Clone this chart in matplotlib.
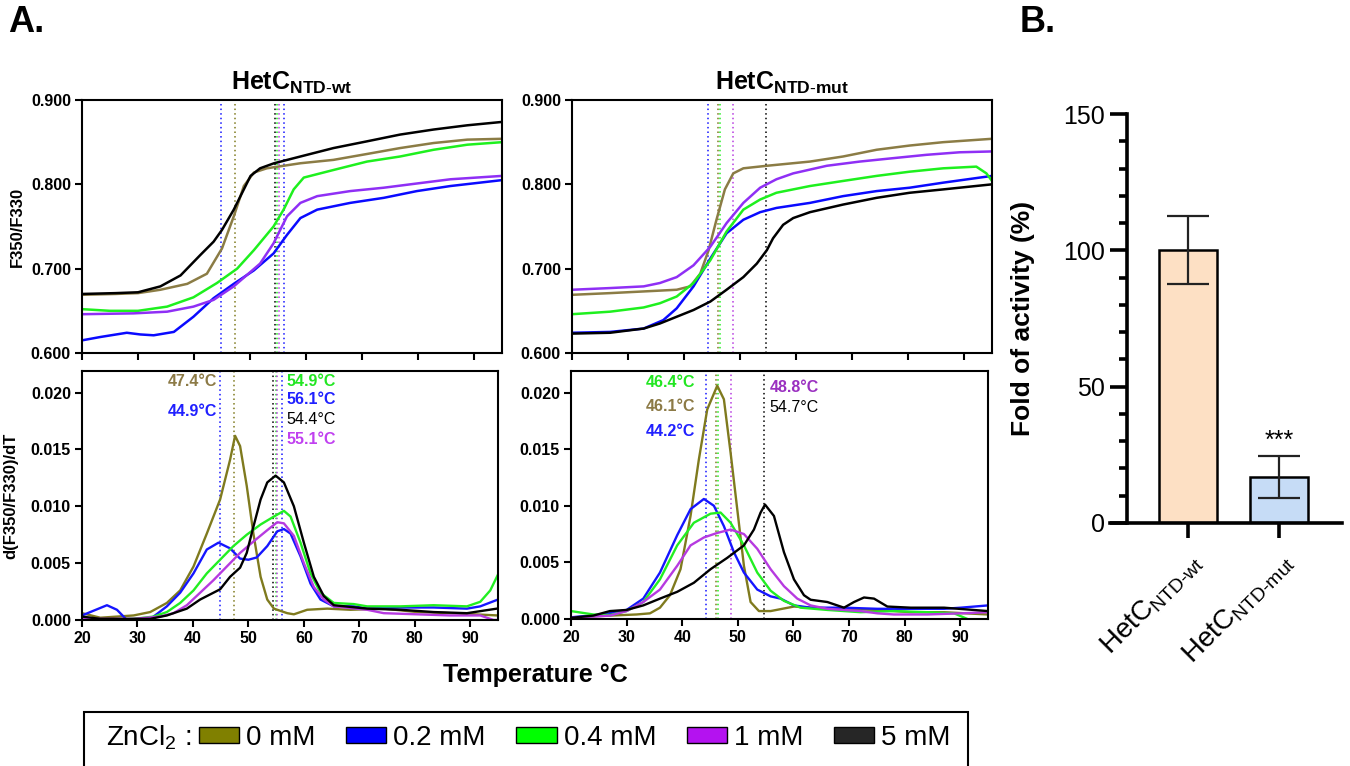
import matplotlib
matplotlib.use("Agg")
import matplotlib.pyplot as plt
import matplotlib.patches as mpatches
from matplotlib.ticker import FormatStrFormatter, MultipleLocator

plt.rcParams['font.family'] = ['Liberation Sans', 'DejaVu Sans']
plt.rcParams['mathtext.fontset'] = 'custom'
plt.rcParams['mathtext.rm'] = 'Liberation Sans'
plt.rcParams['mathtext.bf'] = 'Liberation Sans:bold'
plt.rcParams['mathtext.it'] = 'Liberation Sans:italic'

# ---- data ----
conc_labels = ['0 mM', '0.2 mM', '0.4 mM', '1 mM', '5 mM']
legend_colors = ['#808000', '#0000ff', '#00ff00', '#b412f0', '#262626']
ratio_colors = ['#8b7c45', '#0a0aff', '#1ef01e', '#8f2ff5', '#000000']
deriv_colors = ['#7f7a1e', '#1515ff', '#22ee22', '#b63ae0', '#000000']

# HetC NTD-wt, F350/F330
wt_ratio_t_0 = [20, 26, 30, 34.0, 38.8, 42.3, 45.0, 47.1, 48.9, 50.7, 53.0, 59.0, 64.9, 70.9, 76.8, 82.8, 88.8, 95]
wt_ratio_0 = [0.669, 0.670, 0.671, 0.675, 0.682, 0.694, 0.724, 0.762, 0.798, 0.814, 0.819, 0.825, 0.829, 0.836, 0.843, 0.849, 0.853, 0.854]
wt_ratio_t_02 = [20, 23.3, 28.0, 30.4, 32.8, 36.4, 39.9, 43.5, 47.1, 50.7, 54.2, 56.6, 59.0, 62.0, 67.9, 73.9, 79.8, 85.8, 95]
wt_ratio_02 = [0.615, 0.619, 0.624, 0.622, 0.621, 0.625, 0.643, 0.665, 0.682, 0.698, 0.718, 0.740, 0.760, 0.770, 0.778, 0.784, 0.792, 0.798, 0.805]
wt_ratio_t_04 = [20, 25, 30.0, 35.2, 39.9, 44.1, 47.7, 50.7, 54.2, 56.0, 57.8, 59.6, 64.9, 70.9, 76.8, 82.8, 88.8, 95]
wt_ratio_04 = [0.652, 0.650, 0.650, 0.655, 0.666, 0.683, 0.700, 0.722, 0.750, 0.770, 0.794, 0.808, 0.817, 0.827, 0.833, 0.841, 0.847, 0.850]
wt_ratio_t_1 = [20, 29.2, 35.2, 39.9, 43.5, 47.1, 51.8, 54.2, 56.6, 59.0, 62.0, 67.9, 73.9, 79.8, 85.8, 95]
wt_ratio_1 = [0.646, 0.647, 0.649, 0.655, 0.663, 0.679, 0.706, 0.730, 0.762, 0.778, 0.786, 0.792, 0.796, 0.801, 0.806, 0.810]
wt_ratio_t_5 = [20, 26, 30, 34.0, 37.6, 41.1, 43.5, 45.0, 47.1, 48.9, 50.1, 51.8, 54.3, 59.0, 64.9, 70.9, 76.8, 82.8, 88.8, 95]
wt_ratio_5 = [0.670, 0.671, 0.672, 0.679, 0.692, 0.716, 0.732, 0.746, 0.770, 0.794, 0.810, 0.819, 0.825, 0.833, 0.843, 0.851, 0.859, 0.865, 0.870, 0.874]

# HetC NTD-wt, d(F350/F330)/dT
wt_deriv_t_0 = [20, 23.3, 29.3, 32.3, 35.3, 37.7, 40.1, 42.5, 44.9, 46.7, 47.6, 48.5, 49.7, 50.9, 52.2, 53.4, 54.6, 57.0, 58.2, 60.6, 64.2, 68.4, 74.4, 80.4, 86.4, 95]
wt_deriv_0 = [0.0006, 0.0002, 0.0004, 0.0007, 0.0015, 0.0026, 0.0047, 0.0076, 0.0106, 0.0141, 0.0162, 0.0153, 0.0118, 0.0076, 0.0038, 0.0018, 0.0010, 0.0006, 0.0005, 0.0009, 0.0010, 0.0009, 0.0010, 0.0007, 0.0006, 0.0004]
wt_deriv_t_02 = [20, 24.5, 26.3, 28.1, 31.7, 32.9, 35.3, 37.7, 40.1, 42.5, 44.6, 46.7, 48.5, 50.0, 51.5, 53.4, 55.2, 56.4, 57.6, 59.4, 61.2, 63.0, 65.4, 69.0, 71.4, 77.4, 83.4, 89.4, 91.8, 95]
wt_deriv_02 = [0.0004, 0.0013, 0.0009, 0.0, 0.0, 0.0003, 0.0012, 0.0024, 0.0041, 0.0062, 0.0068, 0.0063, 0.0054, 0.0053, 0.0055, 0.0065, 0.0078, 0.0080, 0.0076, 0.0056, 0.0032, 0.0018, 0.0012, 0.0012, 0.0010, 0.0011, 0.0011, 0.0010, 0.0012, 0.0018]
wt_deriv_t_04 = [20, 23.9, 29.3, 32.9, 35.3, 37.7, 40.1, 42.5, 44.9, 47.3, 49.7, 52.2, 54.6, 56.4, 57.6, 59.4, 61.2, 63.0, 65.4, 69.0, 71.4, 77.4, 83.4, 89.4, 91.8, 93.6, 95]
wt_deriv_04 = [0.0, 0.0, 0.0001, 0.0003, 0.0007, 0.0015, 0.0026, 0.0041, 0.0053, 0.0065, 0.0075, 0.0084, 0.0091, 0.0096, 0.0091, 0.0068, 0.0041, 0.0024, 0.0015, 0.0014, 0.0012, 0.0012, 0.0013, 0.0012, 0.0016, 0.0026, 0.0040]
wt_deriv_t_1 = [20, 29.3, 34.1, 36.5, 38.9, 41.3, 43.7, 46.1, 48.5, 50.9, 53.4, 55.2, 56.4, 58.2, 60.0, 61.8, 63.6, 65.4, 71.4, 74.4, 80.4, 86.4, 91.8, 94.2, 95]
wt_deriv_1 = [0.0001, 0.0001, 0.0003, 0.0006, 0.0013, 0.0024, 0.0035, 0.0047, 0.0059, 0.0069, 0.0079, 0.0086, 0.0085, 0.0074, 0.0050, 0.0029, 0.0018, 0.0012, 0.0009, 0.0006, 0.0005, 0.0004, 0.0004, 0.0, 0.0]
wt_deriv_t_5 = [20, 23.3, 32.3, 35.3, 38.9, 41.3, 43.7, 44.9, 46.7, 48.5, 49.7, 50.9, 52.2, 53.4, 54.9, 56.4, 58.2, 60.0, 61.8, 63.6, 65.4, 71.4, 77.4, 83.4, 89.4, 94.8]
wt_deriv_5 = [0.0003, 0.0001, 0.0001, 0.0004, 0.0010, 0.0018, 0.0024, 0.0027, 0.0038, 0.0046, 0.0059, 0.0082, 0.0106, 0.0121, 0.0127, 0.0121, 0.0100, 0.0068, 0.0038, 0.0021, 0.0013, 0.0010, 0.0009, 0.0007, 0.0006, 0.0010]

# HetC NTD-mut, F350/F330
mut_ratio_t_0 = [20, 26.8, 32.8, 38.7, 41.1, 42.9, 44.4, 45.8, 47.3, 48.8, 50.6, 54.8, 62.5, 68.4, 74.4, 80.3, 86.3, 95]
mut_ratio_0 = [0.669, 0.671, 0.673, 0.675, 0.679, 0.694, 0.722, 0.758, 0.794, 0.813, 0.819, 0.822, 0.827, 0.833, 0.841, 0.846, 0.850, 0.854]
mut_ratio_t_02 = [20, 26.8, 32.8, 36.3, 38.7, 41.7, 44.7, 47.6, 50.6, 53.6, 56.5, 62.5, 68.4, 74.4, 80.3, 86.3, 95]
mut_ratio_02 = [0.624, 0.625, 0.629, 0.639, 0.653, 0.679, 0.712, 0.742, 0.758, 0.767, 0.772, 0.778, 0.786, 0.792, 0.796, 0.802, 0.810]
mut_ratio_t_04 = [20, 26.8, 32.8, 35.7, 38.7, 41.7, 44.7, 47.6, 50.6, 53.6, 56.5, 62.5, 68.4, 74.4, 80.3, 86.3, 92.2, 94.0, 95]
mut_ratio_04 = [0.646, 0.649, 0.654, 0.659, 0.667, 0.683, 0.710, 0.744, 0.770, 0.782, 0.790, 0.798, 0.804, 0.810, 0.815, 0.819, 0.821, 0.813, 0.804]
mut_ratio_t_1 = [20, 26.8, 32.8, 35.7, 38.7, 41.7, 44.7, 47.6, 50.6, 53.6, 56.5, 59.5, 65.5, 71.4, 77.3, 83.3, 89.2, 95]
mut_ratio_1 = [0.675, 0.677, 0.679, 0.683, 0.690, 0.704, 0.726, 0.754, 0.778, 0.796, 0.806, 0.813, 0.822, 0.827, 0.831, 0.835, 0.838, 0.839]
mut_ratio_t_5 = [20, 26.8, 32.8, 35.7, 38.7, 41.7, 44.7, 47.6, 50.6, 53.0, 54.8, 55.9, 57.7, 59.5, 62.5, 68.4, 74.4, 80.3, 86.3, 95]
mut_ratio_5 = [0.623, 0.624, 0.629, 0.635, 0.643, 0.651, 0.661, 0.675, 0.690, 0.706, 0.722, 0.736, 0.752, 0.760, 0.767, 0.776, 0.784, 0.790, 0.794, 0.800]

# HetC NTD-mut, d(F350/F330)/dT
mut_deriv_t_0 = [20, 27.0, 31.8, 34.2, 36.0, 37.8, 39.7, 41.5, 43.0, 44.5, 46.3, 47.5, 48.7, 49.9, 51.1, 52.3, 53.8, 55.9, 60.1, 63.1, 69.1, 75.1, 81.1, 87.1, 95]
mut_deriv_0 = [0.00015, 0.0003, 0.0004, 0.0005, 0.0010, 0.0021, 0.0044, 0.0091, 0.0141, 0.0185, 0.0206, 0.0194, 0.0147, 0.0097, 0.0047, 0.0015, 0.0007, 0.0007, 0.0011, 0.0010, 0.0009, 0.0008, 0.0006, 0.0006, 0.0004]
mut_deriv_t_02 = [20, 25.8, 30.0, 33.0, 36.0, 39.1, 41.5, 43.9, 45.7, 47.5, 49.3, 51.1, 53.5, 55.9, 57.7, 60.1, 63.1, 69.1, 75.1, 81.1, 87.1, 90.1, 95]
mut_deriv_02 = [0.00015, 0.0004, 0.0008, 0.0018, 0.0041, 0.0074, 0.0097, 0.0106, 0.0100, 0.0082, 0.0059, 0.0041, 0.0026, 0.0020, 0.0018, 0.0012, 0.0010, 0.0010, 0.0009, 0.0009, 0.0009, 0.0010, 0.0012]
mut_deriv_t_04 = [20, 24.0, 27.0, 30.0, 33.0, 36.0, 39.1, 42.1, 45.1, 46.9, 48.7, 51.1, 53.5, 55.9, 58.3, 61.3, 66.1, 72.1, 78.1, 84.1, 88.9, 91.3]
mut_deriv_04 = [0.0007, 0.0004, 0.00035, 0.0007, 0.0015, 0.0035, 0.0065, 0.0085, 0.0093, 0.0094, 0.0085, 0.0065, 0.0041, 0.0025, 0.0016, 0.0010, 0.0008, 0.0006, 0.0007, 0.0006, 0.0005, 0.0]
mut_deriv_t_1 = [20, 27.0, 30.0, 33.0, 36.0, 39.1, 41.5, 43.9, 46.3, 48.7, 51.1, 53.5, 55.9, 58.3, 60.7, 63.1, 66.1, 72.1, 75.1, 78.1, 84.1, 90.1, 95]
mut_deriv_1 = [0.0001, 0.0003, 0.0007, 0.0015, 0.0026, 0.0047, 0.0065, 0.0072, 0.0076, 0.0079, 0.0075, 0.0062, 0.0044, 0.0029, 0.0018, 0.0012, 0.0009, 0.0007, 0.0005, 0.0004, 0.0004, 0.0005, 0.0006]
mut_deriv_t_5 = [20, 24.0, 27.0, 30.0, 33.0, 36.0, 39.1, 42.1, 45.1, 48.1, 51.1, 52.9, 54.1, 54.9, 56.5, 58.3, 60.1, 61.9, 63.1, 66.1, 69.1, 70.9, 72.7, 74.5, 76.9, 81.1, 87.1, 95]
mut_deriv_5 = [0.0001, 0.0003, 0.0007, 0.0008, 0.0012, 0.0018, 0.0024, 0.0032, 0.0044, 0.0054, 0.0065, 0.0079, 0.0094, 0.0101, 0.0091, 0.0059, 0.0035, 0.0021, 0.0017, 0.0015, 0.0010, 0.0015, 0.0019, 0.0018, 0.0011, 0.0010, 0.0010, 0.0007]

# melting temperatures (one list per construct, same order as conc_labels; 0.2 mM wt has two)
wt_tm = [47.4, 44.9, 54.9, 55.1, 54.4]
wt_tm_extra = 56.1
mut_tm = [46.1, 44.2, 46.4, 48.8, 54.7]

# panel B: activity
act_labels = [r'HetC$_{\rm NTD\text{-}wt}$', r'HetC$_{\rm NTD\text{-}mut}$']
act_mean = [100.0, 16.8]
act_err = [12.5, 7.8]
act_colors = ['#fde0c4', '#c6dcf6']

W, H = 1350, 766
fig = plt.figure(figsize=(W / 100, H / 100), dpi=100)


def add_ax(l, t, r, b):
    return fig.add_axes([l / W, 1 - b / H, (r - l) / W, (b - t) / H])


def style_a(ax, xlabels):
    ax.set_xlim(20, 95)
    ax.set_xticks(range(20, 100, 10))
    for s in ax.spines.values():
        s.set_linewidth(1.5)
    ax.tick_params(direction='out', length=5, width=1.5, labelsize=11.5, pad=3)
    if not xlabels:
        ax.set_xticklabels([])
    plt.setp(ax.get_xticklabels() + ax.get_yticklabels(), fontweight='bold')


ax_wt_r = add_ax(82, 100, 502, 353)
ax_mut_r = add_ax(572, 100, 992, 353)
ax_wt_d = add_ax(82, 371, 498, 620)
ax_mut_d = add_ax(571, 371, 988, 619)

wt_ratio = [(wt_ratio_t_0, wt_ratio_0), (wt_ratio_t_02, wt_ratio_02), (wt_ratio_t_04, wt_ratio_04),
            (wt_ratio_t_1, wt_ratio_1), (wt_ratio_t_5, wt_ratio_5)]
mut_ratio = [(mut_ratio_t_0, mut_ratio_0), (mut_ratio_t_02, mut_ratio_02), (mut_ratio_t_04, mut_ratio_04),
             (mut_ratio_t_1, mut_ratio_1), (mut_ratio_t_5, mut_ratio_5)]
wt_deriv = [(wt_deriv_t_0, wt_deriv_0), (wt_deriv_t_02, wt_deriv_02), (wt_deriv_t_04, wt_deriv_04),
            (wt_deriv_t_1, wt_deriv_1), (wt_deriv_t_5, wt_deriv_5)]
mut_deriv = [(mut_deriv_t_0, mut_deriv_0), (mut_deriv_t_02, mut_deriv_02), (mut_deriv_t_04, mut_deriv_04),
             (mut_deriv_t_1, mut_deriv_1), (mut_deriv_t_5, mut_deriv_5)]

dot = (0, (1, 2))
for ax, curves in [(ax_wt_r, wt_ratio), (ax_mut_r, mut_ratio)]:
    for (t, v), c in zip(curves, ratio_colors):
        ax.plot(t, v, color=c, lw=1.8)
    ax.set_ylim(0.6, 0.9)
    ax.set_yticks([0.6, 0.7, 0.8, 0.9])
    ax.yaxis.set_major_formatter(FormatStrFormatter('%.3f'))

for ax, curves in [(ax_wt_d, wt_deriv), (ax_mut_d, mut_deriv)]:
    for (t, v), c in zip(curves, deriv_colors):
        ax.plot(t, v, color=c, lw=1.7)
    ax.set_ylim(0, 0.0219)
    ax.set_yticks([0, 0.005, 0.010, 0.015, 0.020])
    ax.yaxis.set_major_formatter(FormatStrFormatter('%.3f'))

# dotted Tm markers
for ax in (ax_wt_r, ax_wt_d):
    for tm, c in zip(wt_tm, deriv_colors):
        ax.axvline(tm, color=c, ls=dot, lw=1.1, zorder=1)
    ax.axvline(wt_tm_extra, color=deriv_colors[1], ls=dot, lw=1.1, zorder=1)
for ax in (ax_mut_r, ax_mut_d):
    for tm, c in zip(mut_tm, deriv_colors):
        ax.axvline(tm, color=c, ls=dot, lw=1.1, zorder=1)

style_a(ax_wt_r, False)
style_a(ax_mut_r, False)
style_a(ax_wt_d, True)
style_a(ax_mut_d, True)

ax_wt_r.set_ylabel('F350/F330', fontsize=12, fontweight='bold')
ax_wt_r.yaxis.set_label_coords(-0.136, 0.5)
ax_wt_d.set_ylabel('d(F350/F330)/dT', fontsize=12, fontweight='bold')
ax_wt_d.yaxis.set_label_coords(-0.154, 0.5)

ax_wt_r.set_title(r'$\mathbf{HetC}_{\mathbf{NTD\text{-}wt}}$', fontsize=18, pad=7)
ax_mut_r.set_title(r'$\mathbf{HetC}_{\mathbf{NTD\text{-}mut}}$', fontsize=18, pad=7)

# Tm labels
tm_fmt = '{:.1f}°C'
ann = dict(fontsize=11.5, va='center')
ax_wt_d.text(44.4, 0.0210, tm_fmt.format(wt_tm[0]), color='#8c7a46', ha='right', fontweight='bold', **ann)
ax_wt_d.text(44.4, 0.0183, tm_fmt.format(wt_tm[1]), color='#2020ff', ha='right', fontweight='bold', **ann)
ax_wt_d.text(56.8, 0.0210, tm_fmt.format(wt_tm[2]), color='#22e622', ha='left', fontweight='bold', **ann)
ax_wt_d.text(56.8, 0.0194, tm_fmt.format(wt_tm_extra), color='#2020ff', ha='left', fontweight='bold', **ann)
ax_wt_d.text(56.8, 0.0176, tm_fmt.format(wt_tm[4]), color='black', ha='left', **ann)
ax_wt_d.text(56.8, 0.0159, tm_fmt.format(wt_tm[3]), color='#c040f0', ha='left', fontweight='bold', **ann)

ax_mut_d.text(42.4, 0.0209, tm_fmt.format(mut_tm[2]), color='#22e622', ha='right', fontweight='bold', **ann)
ax_mut_d.text(42.4, 0.0188, tm_fmt.format(mut_tm[0]), color='#8c7a46', ha='right', fontweight='bold', **ann)
ax_mut_d.text(42.4, 0.0166, tm_fmt.format(mut_tm[1]), color='#2020ff', ha='right', fontweight='bold', **ann)
ax_mut_d.text(55.7, 0.0204, tm_fmt.format(mut_tm[3]), color='#9a30c0', ha='left', fontweight='bold', **ann)
ax_mut_d.text(55.7, 0.0187, tm_fmt.format(mut_tm[4]), color='black', ha='left', **ann)

fig.text(535 / W, 1 - 675 / H, 'Temperature °C', fontsize=18, fontweight='bold', ha='center', va='center')

# ---- panel B ----
axb = fig.add_axes([1110 / W, 1 - 523 / H, 232 / W, 409 / H])
xb = list(range(len(act_labels)))
axb.bar(xb, act_mean, width=0.64, color=act_colors, edgecolor='black', linewidth=1.8, zorder=2)
axb.errorbar(xb, act_mean, yerr=act_err, fmt='none', ecolor='#222222', elinewidth=1.6,
             capsize=15, capthick=1.6, zorder=3)
axb.text(xb[1], act_mean[1] + act_err[1] + 5.5, '***', ha='center', va='center', fontsize=18)
axb.set_xlim(-0.857, 1.692)
axb.set_ylim(0, 150)
axb.spines['left'].set_position(('data', -0.67))
axb.spines['top'].set_visible(False)
axb.spines['right'].set_visible(False)
for s in ('left', 'bottom'):
    axb.spines[s].set_linewidth(2.6)
axb.set_yticks([0, 50, 100, 150])
axb.yaxis.set_minor_locator(MultipleLocator(10))
axb.tick_params(axis='y', which='major', length=12, width=2.6, labelsize=18, pad=4)
axb.tick_params(axis='y', which='minor', length=6, width=2.6)
axb.tick_params(axis='x', length=11, width=2.6, labelsize=20, pad=7)
axb.set_xticks(xb)
axb.set_xticklabels(act_labels, rotation=45, ha='right', va='top', rotation_mode='anchor')
axb.set_ylabel('Fold of activity (%)', fontsize=19, fontweight='bold')
axb.yaxis.set_label_coords(-0.323, 0.5)

# panel letters
fig.text(8 / W, 1 - 22 / H, 'A.', fontsize=26, fontweight='bold', va='center')
fig.text(1020 / W, 1 - 22 / H, 'B.', fontsize=26, fontweight='bold', va='center')

# ---- legend ----
fig.patches.append(mpatches.Rectangle((84 / W, -0.01), (968 - 84) / W, (766 - 712) / H + 0.01,
                                      transform=fig.transFigure, fill=False, lw=1.5, edgecolor='black'))
fig.text(106 / W, 1 - 738 / H, r'ZnCl$_2$ :', fontsize=20, va='center')
handles = [mpatches.Patch(facecolor=c, edgecolor='black', lw=1.0) for c in legend_colors]
fig.legend(handles, conc_labels, ncol=5, frameon=False, loc='center left',
           bbox_to_anchor=(199 / W, 1 - 738 / H), fontsize=20, handlelength=1.45,
           handleheight=0.5, handletextpad=0.25, columnspacing=1.1, borderpad=0, borderaxespad=0)

fig.savefig('out.png', dpi=100)
